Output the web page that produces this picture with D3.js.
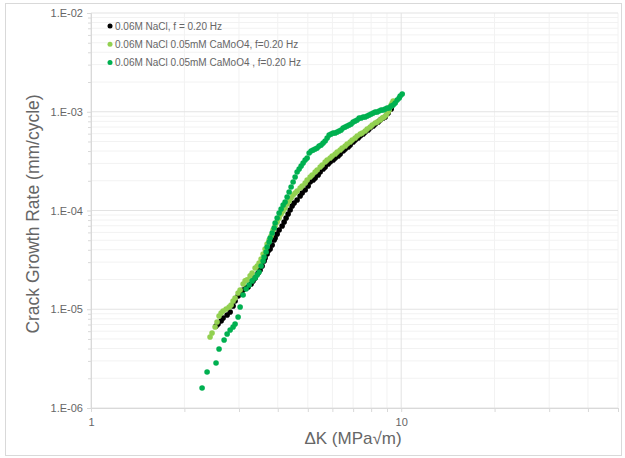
<!DOCTYPE html>
<html>
<head>
<meta charset="utf-8">
<script src="https://cdn.jsdelivr.net/npm/d3@7"></script>
<style>
    body { margin: 0; background: #fff; }
    svg { display: block; }
    text { font-family: "Liberation Sans", Arial, sans-serif; fill: #666666; }
</style>
</head>
<body>
<svg id="chart" width="625" height="458"></svg>
<script>
// Series labels and colours
const seriesNames = [
    '0.06M NaCl, f = 0.20 Hz',
    '0.06M NaCl 0.05mM CaMoO4, f=0.20 Hz',
    '0.06M NaCl 0.05mM CaMoO4 , f=0.20 Hz'
];
const seriesColors = ['#000000', '#92d050', '#00b050'];

// Series 1: 0.06M NaCl
const naclK = [2.530, 2.568, 2.627, 2.666, 2.747, 2.809, 2.871, 2.914, 2.980, 3.047, 3.093, 3.162, 3.210, 3.282,
    3.331, 3.381, 3.457, 3.509, 3.562, 3.615, 3.642, 3.696, 3.724, 3.780, 3.837, 3.894, 3.923, 3.982, 4.041,
    4.132, 4.194, 4.256, 4.320, 4.385, 4.450, 4.517, 4.618, 4.723, 4.794, 4.902, 5.012, 5.087, 5.202, 5.280,
    5.399, 5.480, 5.603, 5.687, 5.815, 5.902, 6.035, 6.126, 6.263, 6.357, 6.500, 6.597, 6.746, 6.847, 7.001,
    7.106, 7.266, 7.376, 7.541, 7.654, 7.827, 7.944, 8.123, 8.245, 8.430, 8.557, 8.748, 8.879, 9.079, 9.284];
const naclRate = [6.77e-6, 7.09e-6, 7.60e-6, 8.15e-6, 8.74e-6, 9.38e-6, 1.078e-5, 1.212e-5, 1.362e-5, 1.459e-5,
    1.565e-5, 1.640e-5, 1.678e-5, 1.80e-5, 1.937e-5, 2.077e-5, 2.327e-5, 2.495e-5, 2.739e-5, 3.083e-5, 3.307e-5,
    3.63e-5, 3.890e-5, 4.076e-5, 4.475e-5, 5.025e-5, 5.265e-5, 5.78e-5, 6.347e-5, 6.967e-5, 7.651e-5, 8.398e-5,
    9.22e-5, 1.012e-4, 1.111e-4, 1.191e-4, 1.277e-4, 1.402e-4, 1.504e-4, 1.613e-4, 1.770e-4, 1.942e-4, 2.034e-4,
    2.131e-4, 2.286e-4, 2.456e-4, 2.634e-4, 2.760e-4, 2.96e-4, 3.095e-4, 3.243e-4, 3.398e-4, 3.560e-4, 3.73e-4,
    4.001e-4, 4.191e-4, 4.392e-4, 4.602e-4, 4.937e-4, 5.173e-4, 5.420e-4, 5.679e-4, 5.95e-4, 6.232e-4, 6.529e-4,
    6.841e-4, 7.168e-4, 7.51e-4, 7.875e-4, 8.251e-4, 8.645e-4, 8.849e-4, 9.712e-4, 1.066e-3];

// Series 2: 0.06M NaCl + 0.05mM CaMoO4
const moK = [2.420, 2.456, 2.512, 2.549, 2.587, 2.627, 2.666, 2.727, 2.788, 2.829, 2.871, 2.914, 2.980, 3.025,
    3.093, 3.139, 3.186, 3.258, 3.307, 3.381, 3.432, 3.483, 3.535, 3.588, 3.642, 3.696, 3.752, 3.808, 3.865,
    3.923, 3.982, 4.041, 4.101, 4.163, 4.225, 4.288, 4.352, 4.417, 4.483, 4.550, 4.618, 4.723, 4.794, 4.902,
    4.975, 5.087, 5.163, 5.280, 5.359, 5.480, 5.561, 5.687, 5.772, 5.902, 5.991, 6.126, 6.217, 6.357, 6.452,
    6.597, 6.696, 6.847, 6.950, 7.106, 7.213, 7.376, 7.486, 7.654, 7.769, 7.944, 8.063, 8.245, 8.368, 8.557,
    8.683, 8.813, 8.945, 9.079, 9.147, 9.215, 9.284, 9.353, 9.423];
const moRate = [5.24e-6, 5.75e-6, 6.61e-6, 7.43e-6, 8.54e-6, 9.16e-6, 9.60e-6, 1.006e-5, 1.054e-5, 1.104e-5,
    1.212e-5, 1.300e-5, 1.459e-5, 1.565e-5, 1.80e-5, 1.937e-5, 1.982e-5, 2.176e-5, 2.327e-5, 2.614e-5, 2.739e-5,
    2.943e-5, 3.230e-5, 3.63e-5, 4.076e-5, 4.58e-5, 5.025e-5, 5.517e-5, 6.347e-5, 6.967e-5, 7.651e-5, 8.398e-5,
    9.22e-5, 9.887e-5, 1.060e-4, 1.164e-4, 1.248e-4, 1.338e-4, 1.435e-4, 1.504e-4, 1.576e-4, 1.690e-4, 1.770e-4,
    1.897e-4, 2.034e-4, 2.182e-4, 2.286e-4, 2.456e-4, 2.573e-4, 2.760e-4, 2.892e-4, 3.095e-4, 3.243e-4, 3.398e-4,
    3.560e-4, 3.73e-4, 3.908e-4, 4.095e-4, 4.290e-4, 4.495e-4, 4.71e-4, 4.937e-4, 5.173e-4, 5.420e-4, 5.679e-4,
    5.95e-4, 6.088e-4, 6.379e-4, 6.683e-4, 7.002e-4, 7.337e-4, 7.694e-4, 7.875e-4, 8.251e-4, 8.645e-4, 8.849e-4,
    9.272e-4, 9.941e-4, 1.042e-3, 1.117e-3, 1.170e-3, 1.226e-3, 1.284e-3];

// Series 3: 0.06M NaCl + 0.05mM CaMoO4 (second run)
const mo2K = [2.281, 2.367, 2.530, 2.587, 2.686, 2.747, 2.809, 2.871, 2.914, 2.980, 3.025, 3.093, 3.162, 3.234,
    3.307, 3.381, 3.432, 3.483, 3.535, 3.588, 3.615, 3.669, 3.696, 3.752, 3.780, 3.837, 3.894, 3.923, 3.982,
    4.041, 4.101, 4.163, 4.225, 4.288, 4.352, 4.417, 4.483, 4.550, 4.618, 4.688, 4.758, 4.829, 4.902, 4.975,
    5.050, 5.125, 5.202, 5.280, 5.359, 5.439, 5.520, 5.603, 5.687, 5.772, 5.858, 5.946, 6.035, 6.126, 6.217,
    6.310, 6.404, 6.500, 6.597, 6.696, 6.797, 6.898, 7.001, 7.106, 7.213, 7.321, 7.430, 7.541, 7.654, 7.769,
    7.885, 8.003, 8.123, 8.245, 8.368, 8.494, 8.619, 8.748, 8.879, 9.012, 9.147, 9.284, 9.423, 9.564, 9.707,
    9.853, 9.926, 10.075];
const mo2Rate = [1.594e-6, 2.315e-6, 2.854e-6, 3.960e-6, 4.886e-6, 5.62e-6, 6.164e-6, 6.611e-6, 7.09e-6, 8.345e-6,
    1.054e-5, 1.394e-5, 1.602e-5, 1.759e-5, 1.937e-5, 2.077e-5, 2.228e-5, 2.382e-5, 2.739e-5, 3.083e-5, 3.385e-5,
    3.800e-5, 4.270e-5, 4.796e-5, 5.265e-5, 5.918e-5, 6.650e-5, 7.475e-5, 8.398e-5, 9.437e-5, 1.036e-4, 1.137e-4,
    1.219e-4, 1.370e-4, 1.539e-4, 1.730e-4, 1.942e-4, 2.182e-4, 2.456e-4, 2.634e-4, 2.825e-4, 3.024e-4, 3.243e-4,
    3.398e-4, 3.818e-4, 4.001e-4, 4.095e-4, 4.191e-4, 4.290e-4, 4.495e-4, 4.602e-4, 4.824e-4, 5.054e-4, 5.420e-4,
    5.813e-4, 5.95e-4, 6.088e-4, 6.088e-4, 6.232e-4, 6.379e-4, 6.529e-4, 6.841e-4, 7.002e-4, 7.168e-4, 7.337e-4,
    7.51e-4, 7.875e-4, 8.061e-4, 8.251e-4, 8.645e-4, 8.645e-4, 8.849e-4, 8.849e-4, 9.057e-4, 9.272e-4, 9.49e-4,
    9.712e-4, 9.941e-4, 9.941e-4, 1.018e-3, 1.042e-3, 1.042e-3, 1.066e-3, 1.091e-3, 1.091e-3, 1.143e-3, 1.170e-3,
    1.226e-3, 1.315e-3, 1.377e-3, 1.443e-3, 1.512e-3];

// Axis ticks
const xMajorTicks = [1, 10];
const xMinorTicks = [2, 3, 4, 5, 6, 7, 8, 9, 20, 30, 40, 50];
const yMajorTicks = [1e-6, 1e-5, 1e-4, 1e-3, 1e-2];
const yMinorTicks = [1e-6, 1e-5, 1e-4, 1e-3].flatMap(d => [2, 3, 4, 5, 6, 7, 8, 9].map(m => m * d));
const yTickLabels = ['1.E-06', '1.E-05', '1.E-04', '1.E-03', '1.E-02'];

const xTitle = '\u0394K (MPa\u221Am)';
const yTitle = 'Crack Growth Rate (mm/cycle)';

const svg = d3.select('#chart');
const width = 625, height = 458;
const margin = { top: 13, right: 7, bottom: 50, left: 91 };

// chart frame
svg.append('rect')
    .attr('x', 5.5).attr('y', 3.5)
    .attr('width', width - 9).attr('height', height - 6)
    .attr('fill', '#fff')
    .attr('stroke', '#d9d9d9');

const x = d3.scaleLog().domain([1, 50]).range([margin.left, width - margin.right]);
const y = d3.scaleLog().domain([1e-6, 1e-2]).range([height - margin.bottom, margin.top]);

// gridlines
const grid = svg.append('g');
grid.selectAll('.vminor').data(xMinorTicks).enter().append('line')
    .attr('x1', d => x(d)).attr('x2', d => x(d))
    .attr('y1', y.range()[1]).attr('y2', y.range()[0])
    .attr('stroke', '#f2f2f2');
grid.selectAll('.hminor').data(yMinorTicks).enter().append('line')
    .attr('x1', x.range()[0]).attr('x2', x.range()[1])
    .attr('y1', d => y(d)).attr('y2', d => y(d))
    .attr('stroke', '#f2f2f2');
grid.selectAll('.vmajor').data(xMajorTicks).enter().append('line')
    .attr('x1', d => x(d)).attr('x2', d => x(d))
    .attr('y1', y.range()[1]).attr('y2', y.range()[0])
    .attr('stroke', '#e3e3e3');
grid.selectAll('.hmajor').data(yMajorTicks).enter().append('line')
    .attr('x1', x.range()[0]).attr('x2', x.range()[1])
    .attr('y1', d => y(d)).attr('y2', d => y(d))
    .attr('stroke', '#e3e3e3');

// axes
function styleAxis(g) {
    g.select('.domain').attr('stroke', '#d9d9d9');
    g.selectAll('.tick line').attr('stroke', '#d9d9d9');
    g.selectAll('.tick text')
        .attr('fill', '#666666')
        .style('font-family', '"Liberation Sans", Arial, sans-serif')
        .style('font-size', '11px');
}

svg.append('g')
    .attr('transform', `translate(0,${y.range()[0]})`)
    .call(d3.axisBottom(x).tickValues(xMinorTicks).tickFormat('').tickSize(4).tickSizeOuter(0))
    .call(styleAxis);
svg.append('g')
    .attr('transform', `translate(0,${y.range()[0]})`)
    .call(d3.axisBottom(x).tickValues(xMajorTicks).tickFormat(d3.format('d')).tickSize(4).tickPadding(6).tickSizeOuter(0))
    .call(styleAxis);

svg.append('g')
    .attr('transform', `translate(${x.range()[0]},0)`)
    .call(d3.axisLeft(y).tickValues(yMinorTicks).tickFormat('').tickSize(3).tickSizeOuter(0))
    .call(styleAxis);
svg.append('g')
    .attr('transform', `translate(${x.range()[0]},0)`)
    .call(d3.axisLeft(y).tickValues(yMajorTicks).tickFormat((d, i) => yTickLabels[i]).tickSize(4).tickPadding(4).tickSizeOuter(0))
    .call(styleAxis);

// axis titles
svg.append('text')
    .attr('x', 353).attr('y', 444)
    .attr('text-anchor', 'middle')
    .style('font-size', '17px')
    .text(xTitle);
svg.append('text')
    .attr('transform', 'translate(39,214) rotate(-90)')
    .attr('text-anchor', 'middle')
    .style('font-size', '17.5px')
    .text(yTitle);

// data points
const seriesData = [
    naclK.map((k, i) => ({ k, r: naclRate[i] })),
    moK.map((k, i) => ({ k, r: moRate[i] })),
    mo2K.map((k, i) => ({ k, r: mo2Rate[i] }))
];

seriesData.forEach((pts, s) => {
    svg.append('g')
        .selectAll('circle')
        .data(pts)
        .enter()
        .append('circle')
        .attr('cx', d => x(d.k))
        .attr('cy', d => y(d.r))
        .attr('r', 2.8)
        .attr('fill', seriesColors[s]);
});

// legend
const legend = svg.append('g').attr('transform', 'translate(110,26)');
seriesNames.forEach((name, i) => {
    const row = legend.append('g').attr('transform', `translate(0,${i * 18.3})`);
    row.append('circle').attr('r', 2.5).attr('fill', seriesColors[i]);
    row.append('text')
        .attr('x', 5).attr('dy', '0.35em')
        .style('font-size', '10px')
        .text(name);
});
</script>
</body>
</html>
